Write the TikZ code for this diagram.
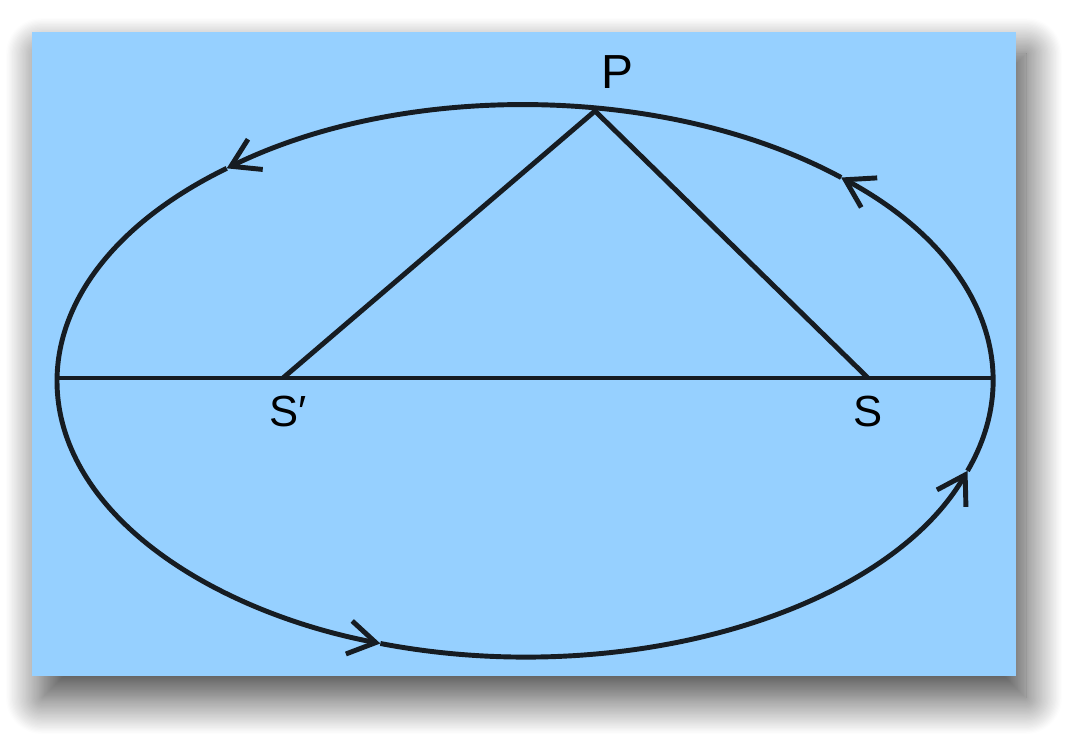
\documentclass[tikz,border=0pt]{standalone}
\usepackage{fontspec}
\setmainfont{Liberation Sans}
\usetikzlibrary{arrows.meta,shadows.blur}
\definecolor{sky}{RGB}{150,208,255}
\definecolor{ink}{RGB}{22,28,34}
\begin{document}
\begin{tikzpicture}[x=0.025cm,y=0.025cm,
    line/.style={draw=ink, line width=3.5pt},
    orbit/.style={line, -{Straight Barb[length=6.8mm,width=8.4mm]}}]
  \useasboundingbox (0,0) rectangle (1081,741);
  \fill[sky, blur shadow={shadow xshift=2.5mm, shadow yshift=-5.5mm,
    shadow blur radius=9mm, shadow blur steps=30, shadow opacity=75}]
    (32,65) rectangle (1016,709);
  \coordinate (o) at (525,360);
  \coordinate (l) at (57,363);
  \coordinate (r) at (993,363);
  \coordinate (sp) at (283,363);
  \coordinate (s) at (868,363);
  \coordinate (p) at (595,630);
  % orbit, one arrow per piece
  \foreach \a/\b in {252/341, 341/407.5, 47.5/129.6, 129.6/252}
    \draw[orbit] (o) ++({468*cos(\a)},{276*sin(\a)})
      arc[start angle=\a, end angle=\b, x radius=468, y radius=276];
  \draw[line] (l) -- (r);
  \draw[line] (sp) -- (p) -- (s);
  \node[font=\fontsize{34}{38}\selectfont] (lp) at (617,669) {P};
  \node[font=\fontsize{31}{35}\selectfont] (lsp) at (288,329) {S′};
  \node[font=\fontsize{31}{35}\selectfont] (ls) at (868,329) {S};
\end{tikzpicture}
\end{document}
